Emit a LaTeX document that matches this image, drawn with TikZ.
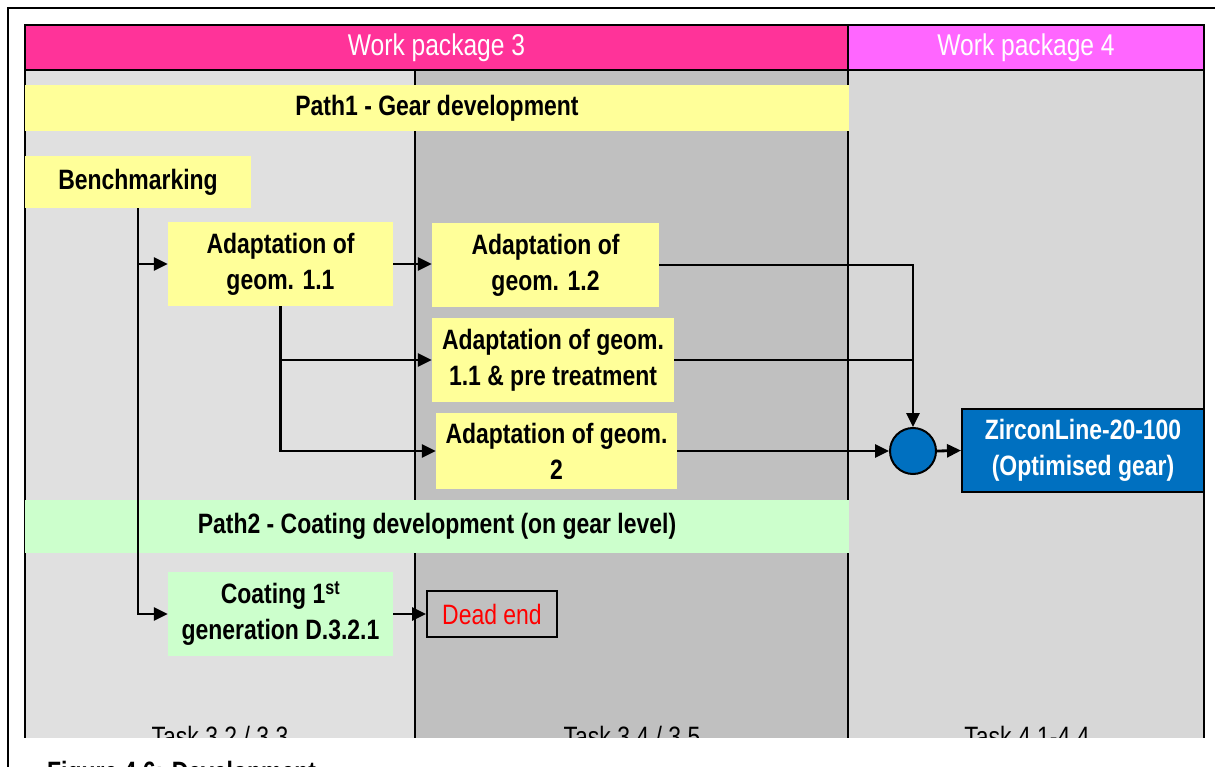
\documentclass[tikz,border=0pt]{standalone}
\usepackage{fontspec}
\setmainfont[FakeStretch=0.82]{Liberation Sans}
\usetikzlibrary{arrows.meta}
\definecolor{wpthree}{HTML}{FF3399}
\definecolor{wpfour}{HTML}{FF66FF}
\definecolor{colA}{HTML}{E0E0E0}
\definecolor{colB}{HTML}{C0C0C0}
\definecolor{colC}{HTML}{D7D7D7}
\definecolor{ylw}{HTML}{FFFF99}
\definecolor{grn}{HTML}{CCFFCC}
\definecolor{blu}{HTML}{0070C0}
\definecolor{deadred}{HTML}{FF0000}
\begin{document}
\begin{tikzpicture}[x=1pt,y=-1pt,
  txt/.style={font=\fontsize{28}{36}\selectfont, align=center, inner sep=0pt},
  htxt/.style={font=\fontsize{30}{36}\selectfont, align=center, inner sep=0pt},
  btxt/.style={font=\fontsize{28}{36}\selectfont\bfseries, align=center, inner sep=0pt},
  ybox/.style={btxt, fill=ylw},
  gbox/.style={btxt, fill=grn},
  frame/.style={line width=2pt, draw=black},
  arr/.style={line width=2.8pt, -{Triangle[length=14pt,width=13pt]}},
  plain/.style={line width=2.8pt}]
\useasboundingbox (0,0) rectangle (1215,767);
\clip (0,0) rectangle (1215,767);
\fill[white] (0,0) rectangle (1215,767);
% columns
\fill[colA] (25,70) rectangle (415,738);
\fill[colB] (415,70) rectangle (848,738);
\fill[colC] (848,70) rectangle (1204,738);
% headers
\node[htxt, fill=wpthree, text=white, minimum width=823pt, minimum height=45pt] (wp3) at (436.5,47.5) {Work package 3};
\node[htxt, fill=wpfour, text=white, minimum width=356pt, minimum height=45pt] (wp4) at (1026,47.5) {Work package 4};
% frame lines
\draw[frame] (25,738) -- (25,25) -- (1204,25) -- (1204,738);
\draw[frame] (25,70) -- (1204,70);
\draw[frame] (848,25) -- (848,738);
\draw[frame] (415,70) -- (415,738);
% task labels
\node[txt, anchor=base] (t1) at (220,746) {Task 3.2 / 3.3};
\node[txt, anchor=base] (t2) at (632,746) {Task 3.4 / 3.5};
\node[txt, anchor=base] (t3) at (1027,746) {Task 4.1-4.4};
% bands
\node[ybox, minimum width=824pt, minimum height=46pt] (path1) at (437,108) {Path1 - Gear development};
\node[gbox, minimum width=824pt, minimum height=53pt] (path2) at (437,526.5) {Path2 - Coating development (on gear level)};
% boxes
\node[ybox, minimum width=226pt, minimum height=52pt] (bench) at (138,182) {Benchmarking};
\node[ybox, minimum width=225pt, minimum height=84pt] (a11) at (280.5,264) {Adaptation of\\geom. 1.1};
\node[ybox, minimum width=227pt, minimum height=84pt] (a12) at (545.5,265) {Adaptation of\\geom. 1.2};
\node[ybox, minimum width=242pt, minimum height=84pt] (pre) at (553,360) {Adaptation of geom.\\1.1 \& pre treatment};
\node[ybox, minimum width=241pt, minimum height=76pt] (g2) at (556.5,451) {Adaptation of geom.\\2};
\node[gbox, minimum width=225pt, minimum height=84pt] (coat) at (280.5,614) {Coating 1\textsuperscript{st}\\generation D.3.2.1};
\node[txt, fill=colB, draw=black, line width=2pt, text=deadred, minimum width=130pt, minimum height=46pt] (dead) at (492,614) {Dead end};
\node[circle, fill=blu, draw=black, line width=2pt, minimum size=46pt, inner sep=0pt] (circ) at (913,451) {};
\node[btxt, fill=blu, draw=black, line width=2pt, text=white, minimum width=242pt, minimum height=83pt] (zirc) at (1083,450.5) {ZirconLine-20-100\\(Optimised gear)};
% connectors
\draw[arr] (bench.south) |- (a11.west);
\draw[arr] (bench.south) |- (coat.west);
\draw[arr] (a11.east) -- (a11.east -| a12.west);
\draw[arr] (a11.south) |- (pre.west);
\draw[arr] (a11.south) |- (g2.west);
\draw[arr] (a12.east) -| (circ.north);
\draw[plain] (pre.east) -- (pre.east -| circ.north);
\draw[arr] (g2.east) -- (circ.west);
\draw[arr] (circ.east) -- (zirc.west);
\draw[arr] (coat.east) -- (dead.west);
% cut-off area
\fill[white] (9,738) rectangle (1215,767);
\draw[line width=2pt] (8,767) -- (8,8) -- (1215,8);
\node[btxt, anchor=base west] (cap) at (47,781) {Figure 4.6: Development};
\end{tikzpicture}
\end{document}
